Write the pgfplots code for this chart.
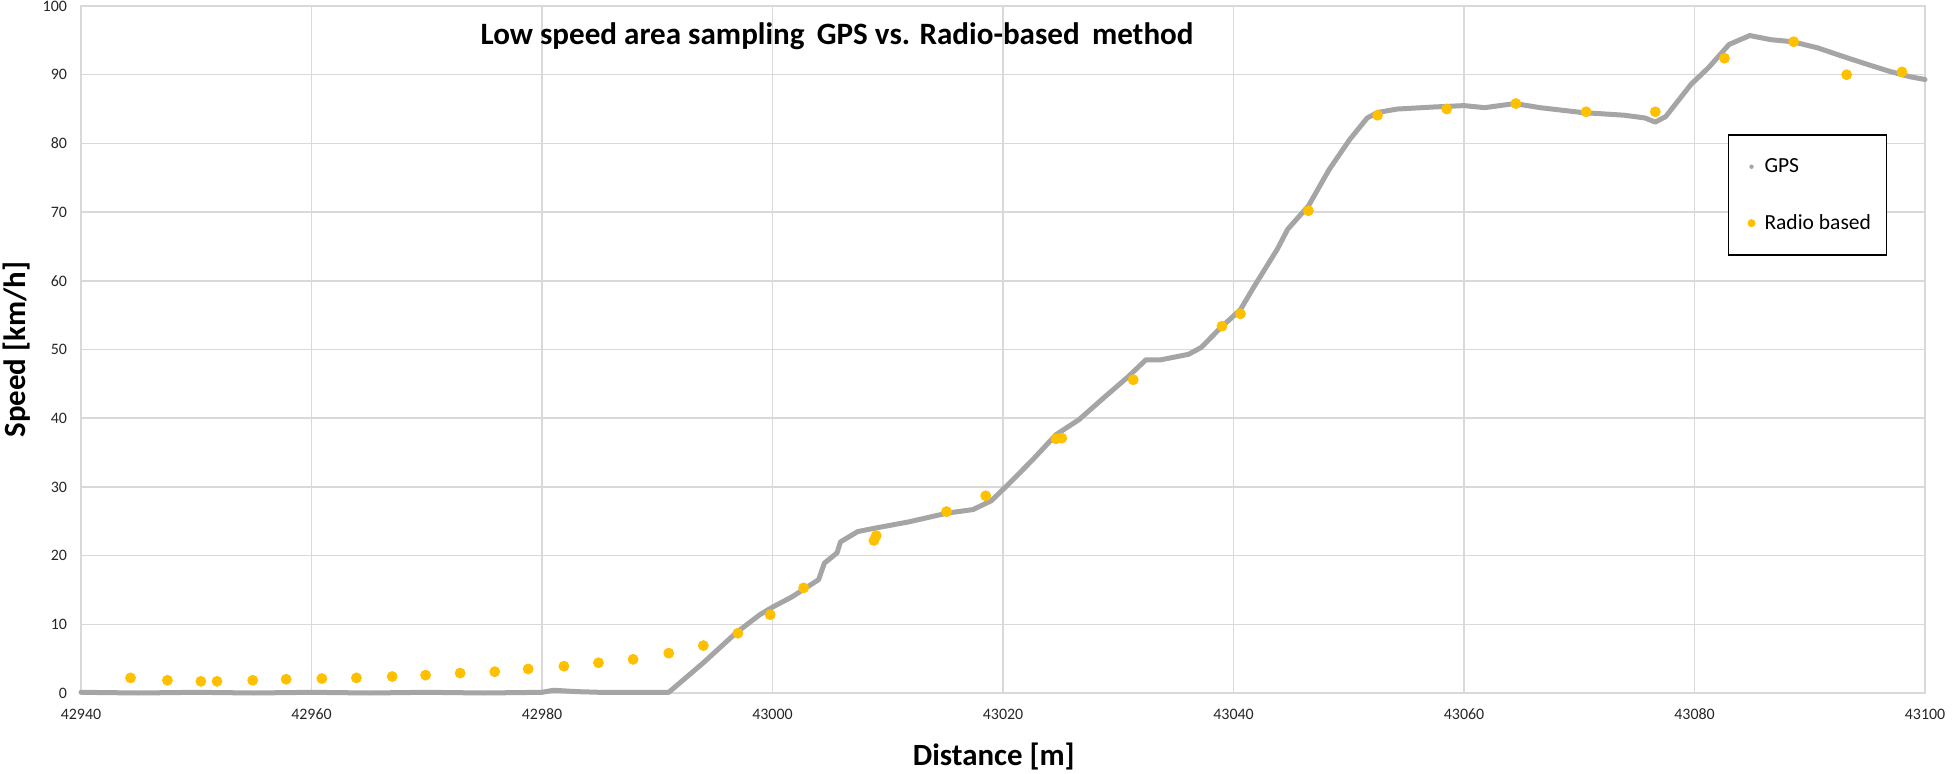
\documentclass[border=0pt]{standalone}
\usepackage{fontspec}
\setmainfont{Carlito}
\usepackage{pgfplots}
\pgfplotsset{compat=1.18}
\definecolor{gpsgray}{HTML}{A5A5A5}
\definecolor{radio}{HTML}{FFC000}
\definecolor{gridc}{HTML}{D9D9D9}
\begin{document}
\begin{tikzpicture}
\begin{axis}[
  scale only axis, width=922bp, height=343.5bp,
  xmin=42940, xmax=43100, ymin=0, ymax=100,
  xtick={42940,42960,...,43100}, ytick={0,10,...,100},
  scaled x ticks=false,
  xticklabel={\pgfmathprintnumber[fixed,precision=0,set thousands separator={},assume math mode=true]{\tick}},
  grid=major, major grid style={gridc, line width=0.75bp},
  axis line style={gridc, line width=0.75bp},
  major tick length=0pt,
  /pgf/number format/assume math mode=true,
  /pgf/number format/set thousands separator={},
  tick label style={font=\fontsize{8}{9}\selectfont, color=black!85},
  xticklabel style={yshift=-4.5bp},
  yticklabel style={xshift=-3.5bp},
  clip=false,
  every axis y label/.style={at={(axis description cs:-0.0347,0.5)}, rotate=90, anchor=center},
  every axis x label/.style={at={(axis description cs:0.495,-0.0917)}, anchor=center},
  ylabel={\fontsize{15.5}{16}\selectfont\bfseries Speed [km/h]},
  xlabel={\fontsize{15.5}{16}\selectfont\bfseries Distance [m]},
  legend style={at={(0.893,0.813)}, anchor=north west, draw=black, line width=0.8pt,
    font=\fontsize{10.8}{12}\selectfont, inner xsep=7bp, inner ysep=9.5bp, row sep=15.5bp},
  legend cell align=left,
]
\addplot[gpsgray, line width=2.5bp, line join=round, line cap=round,
  legend image code/.code={\path[draw=none,fill=none] (0,0) (9bp,0); \fill[gpsgray, draw=none] (4.5bp,0) circle (1.1bp);}] coordinates {
(42940,0.1) (42945,0.0) (42950,0.1) (42955,0.0) (42960,0.1) (42965,0.0) (42970,0.1) (42975,0.0) (42980,0.1)
(42981,0.4) (42982,0.3) (42983,0.2) (42985,0.1) (42991,0.1)
(42994,4.4) (42996.8,8.7) (42998.9,11.4) (43000,12.5) (43001.7,14.0) (43004,16.5) (43004.5,18.9)
(43005.6,20.4) (43005.9,22) (43007.4,23.5) (43008.9,24.0) (43011.8,24.9) (43015.2,26.2) (43017.4,26.7)
(43019,28.0) (43020.6,30.6) (43022.6,34.0) (43024.6,37.6) (43026.6,39.8) (43028.9,43.2) (43030.9,46.1)
(43032.4,48.5) (43033.7,48.5) (43036.1,49.3) (43037.2,50.3) (43038.9,53.2) (43040.6,55.8) (43041.8,59.2)
(43043.8,64.6) (43044.7,67.5) (43046.5,70.9) (43048.3,76.2) (43050.1,80.6) (43051.6,83.7) (43052.5,84.5)
(43054.2,85.0) (43057.4,85.3) (43060,85.5) (43061.8,85.2) (43064.4,85.8) (43066.6,85.2) (43070.2,84.5)
(43073.9,84.1) (43075.7,83.7) (43076.6,83.1) (43077.5,83.9) (43079.7,88.6) (43081.2,91.0) (43083.0,94.4)
(43084.8,95.7) (43086.6,95.1) (43088.5,94.8) (43090.7,93.9) (43092.8,92.7) (43095.0,91.5) (43096.9,90.5)
(43098.7,89.7) (43100,89.3)
};
\addlegendentry{GPS}
\addplot[only marks, mark=*, mark size=2.5bp, mark options={fill=radio, draw=radio},
  legend image code/.code={\path[draw=none,fill=none] (0,0) (9bp,0); \fill[radio, draw=none] (4.5bp,0) circle (2bp);}] coordinates {
(42944.3,2.2) (42947.5,1.85) (42950.4,1.7) (42951.8,1.7) (42954.9,1.85) (42957.8,2.0) (42960.9,2.1)
(42963.9,2.2) (42967.0,2.4) (42969.9,2.6) (42972.9,2.9) (42975.9,3.1) (42978.8,3.5) (42981.9,3.9)
(42984.9,4.4) (42987.9,4.9) (42991.0,5.8) (42994.0,6.9) (42997.0,8.7) (42999.8,11.4) (43002.7,15.3)
(43008.8,22.2) (43009.0,22.9) (43015.1,26.4) (43018.5,28.7) (43024.6,37.0) (43025.1,37.1) (43031.3,45.6)
(43039.0,53.4) (43040.6,55.2) (43046.5,70.2) (43052.5,84.1) (43058.5,85.0) (43064.5,85.8) (43070.6,84.6)
(43076.6,84.6) (43082.6,92.4) (43088.6,94.8) (43093.2,90.0) (43098.0,90.4)
};
\addlegendentry{\makebox[52bp][l]{Radio based}}
\node[font=\fontsize{15.6}{16}\selectfont\bfseries, anchor=center] at (axis cs:43005.6,95.6)
  {Low speed area sampling\, GPS vs. Radio-based\, method};
\end{axis}
\pgfresetboundingbox
\path (-40.5bp,-40.5bp) rectangle (939.5bp,346.5bp);
\end{tikzpicture}
\end{document}
